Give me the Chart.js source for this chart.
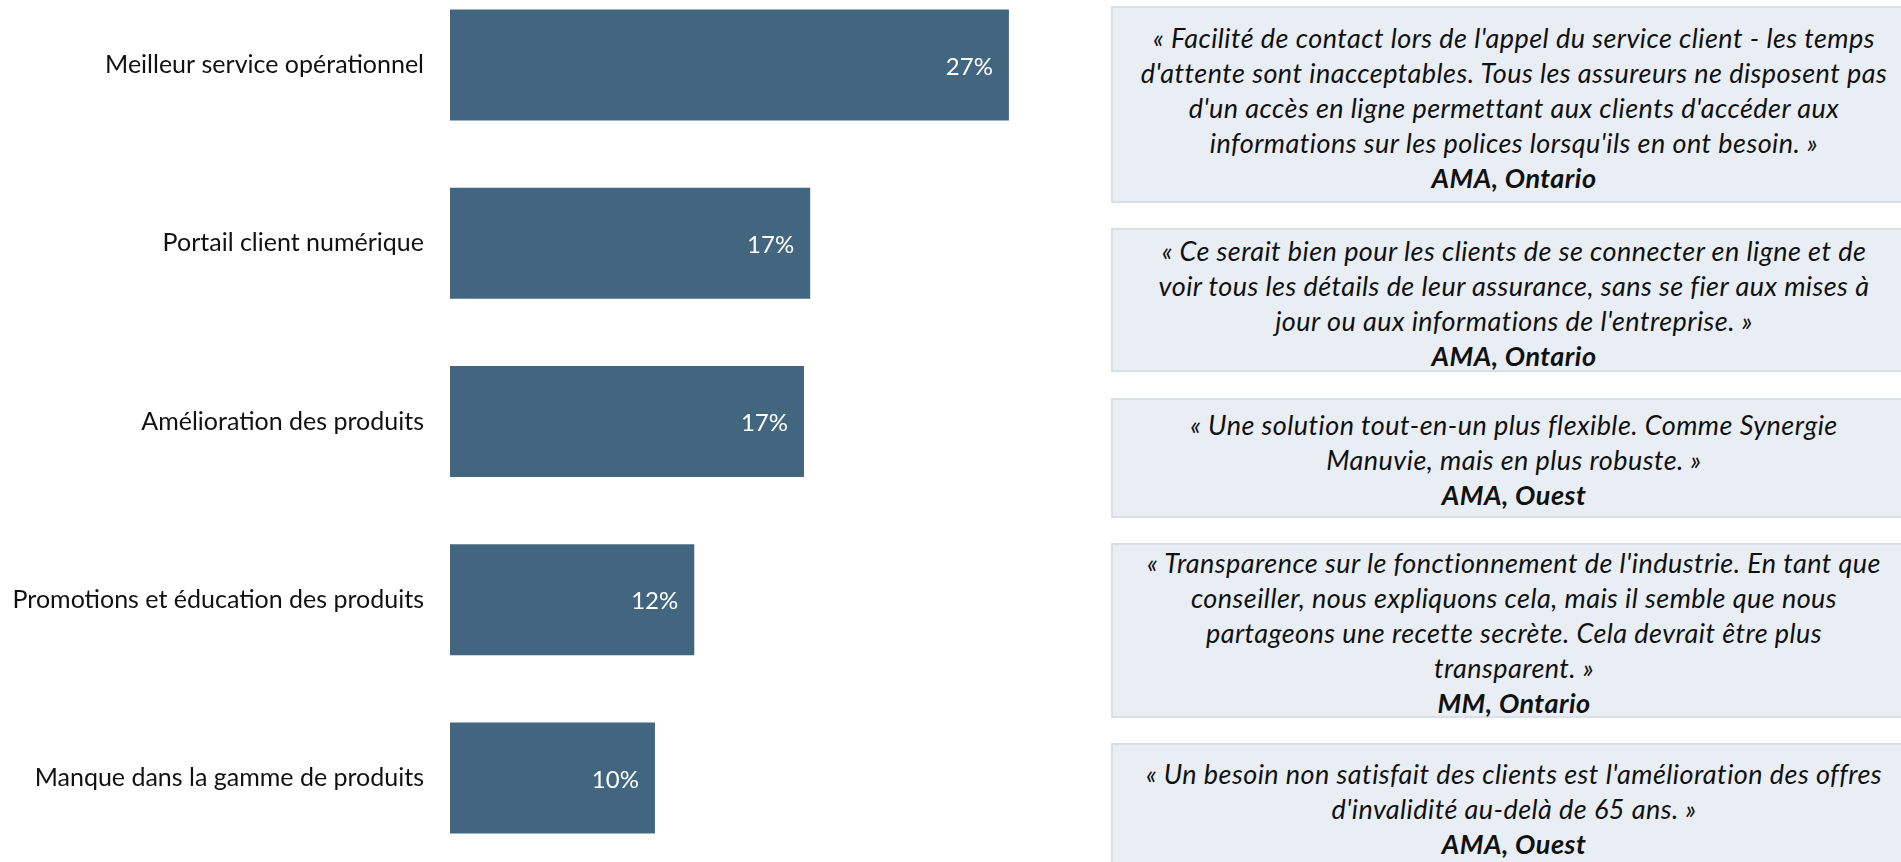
<!DOCTYPE html>
<html>
<head>
<meta charset="utf-8">
<script src="https://cdn.jsdelivr.net/npm/chart.js@4.4.1/dist/chart.umd.min.js"></script>
<style>
  html, body { margin: 0; padding: 0; background: #fff; overflow: hidden; }
  body { width: 1901px; height: 862px; position: relative; }
  #needsChart { position: absolute; left: 0; top: -24px; }
  .quote {
    position: absolute; left: 1111px; width: 806px;
    background: #e8eef4; border: 2px solid #d9dfe5; box-sizing: border-box;
    font-family: Lato, "Open Sans", sans-serif; font-style: italic;
    font-size: 27px; letter-spacing: 0.45px; line-height: 35px; color: #111; text-align: center;
    white-space: nowrap;
  }
  .quote b { font-weight: bold; }
</style>
</head>
<body>
<canvas id="needsChart" width="1071" height="891"></canvas>

<div class="quote" style="top:6px;height:197px;padding-top:12px;">
  « Facilité de contact lors de l'appel du service client - les temps<br>
  d'attente sont inacceptables. Tous les assureurs ne disposent pas<br>
  d'un accès en ligne permettant aux clients d'accéder aux<br>
  informations sur les polices lorsqu'ils en ont besoin. »<br>
  <b>AMA, Ontario</b>
</div>
<div class="quote" style="top:228px;height:144px;padding-top:3px;">
  « Ce serait bien pour les clients de se connecter en ligne et de<br>
  voir tous les détails de leur assurance, sans se fier aux mises à<br>
  jour ou aux informations de l'entreprise. »<br>
  <b>AMA, Ontario</b>
</div>
<div class="quote" style="top:398px;height:120px;padding-top:7px;">
  « Une solution tout-en-un plus flexible. Comme Synergie<br>
  Manuvie, mais en plus robuste. »<br>
  <b>AMA, Ouest</b>
</div>
<div class="quote" style="top:543px;height:175px;padding-top:0px;">
  « Transparence sur le fonctionnement de l'industrie. En tant que<br>
  conseiller, nous expliquons cela, mais il semble que nous<br>
  partageons une recette secrète. Cela devrait être plus<br>
  transparent. »<br>
  <b>MM, Ontario</b>
</div>
<div class="quote" style="top:743px;height:140px;padding-top:11px;">
  « Un besoin non satisfait des clients est l'amélioration des offres<br>
  d'invalidité au-delà de 65 ans. »<br>
  <b>AMA, Ouest</b>
</div>

<script>
//#region DATA
const categories = [
  "Meilleur service opérationnel",
  "Portail client numérique",
  "Amélioration des produits",
  "Promotions et éducation des produits",
  "Manque dans la gamme de produits",
];
const shares = [27, 17.4, 17.1, 11.8, 9.9];
//#endregion

//#region RENDER
// white % labels drawn inside the bar end
const barLabels = {
  id: "barLabels",
  afterDatasetsDraw(chart) {
    const ctx = chart.ctx;
    const meta = chart.getDatasetMeta(0);
    ctx.save();
    ctx.font = "24px Lato, sans-serif";
    ctx.fillStyle = "#ffffff";
    ctx.textAlign = "right";
    ctx.textBaseline = "middle";
    meta.data.forEach((bar, i) => {
      ctx.fillText(Math.round(shares[i]) + "%", bar.x - 16, bar.y + 2);
    });
    ctx.restore();
  },
};

const ctx = document.getElementById("needsChart").getContext("2d");
const needsChart = new Chart(ctx, {
  type: "bar",
  data: {
    labels: categories,
    datasets: [
      {
        data: shares,
        backgroundColor: "#436680",
        borderWidth: 0,
        barPercentage: 0.623,
        categoryPercentage: 1,
      },
    ],
  },
  options: {
    indexAxis: "y",
    responsive: false,
    animation: false,
    layout: { padding: 0, autoPadding: false },
    scales: {
      x: {
        display: false,
        min: 0,
        max: 30,
      },
      y: {
        grid: { display: false, drawTicks: false },
        border: { display: false },
        ticks: {
          padding: 26,
          color: "#111111",
          font: { family: "Lato", size: 25 },
        },
        afterFit: (scale) => {
          scale.width = 450;
          // bands should run to the canvas edges
          scale.paddingTop = 0;
          scale.paddingBottom = 0;
        },
      },
    },
    plugins: {
      legend: { display: false },
      tooltip: { enabled: false },
    },
  },
  plugins: [barLabels],
});
//#endregion
</script>
</body>
</html>
